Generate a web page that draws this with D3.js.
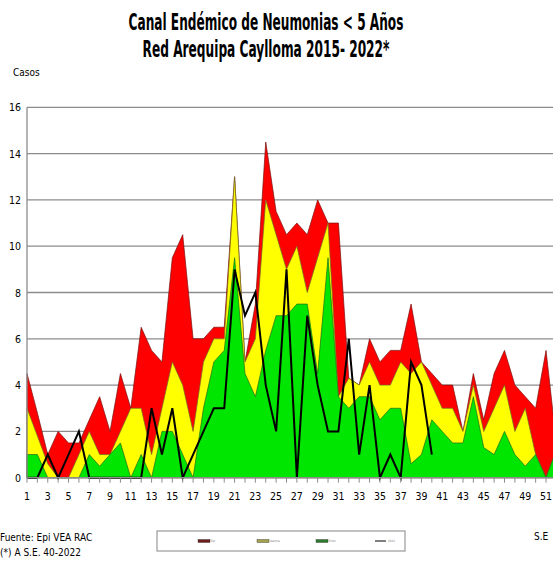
<!DOCTYPE html>
<meta charset="utf-8">
<style>
body { margin:0; background:#fff; }
svg { display:block; }
text { font-family: "Liberation Sans Narrow", "DejaVu Sans Condensed", "Liberation Sans", sans-serif; fill:#000; }
.title { font-weight:bold; font-size:23px; }
.grid { stroke:#8c8c8c; stroke-width:1.3; }
.tick { font-size:10.5px; }
.foot { font-size:10px; }
</style>
<div id="chart"></div>
<script src="https://cdn.jsdelivr.net/npm/d3@7"></script>
<script>

// semanas epidemiologicas
var weeks = d3.range(1, 53);

// canal endemico (zona epidemia / alarma / seguridad)
var epidemia = [4.5, 2.8, 1, 2, 1.5, 1.5, 2.5, 3.5, 2, 4.5, 3, 6.5, 5.5, 5, 9.5, 10.5, 6, 6, 6.5, 6.5,
  13, 5, 7.5, 14.5, 11.5, 10.5, 11, 10.5, 12, 11, 11, 4.3, 4, 6, 5, 5.5, 5.5, 7.5, 5, 4.5,
  4, 4, 2, 4.5, 2.5, 4.5, 5.5, 4, 3.5, 3, 5.5, 1.5];
var alarma = [3, 1.8, 0.6, 0, 0, 1, 2, 1, 1, 2, 3, 3, 1, 3, 5, 4, 2, 5, 6, 6,
  13, 5, 6, 12, 10.5, 9, 10, 8, 9.5, 11, 3.5, 4.3, 4, 5, 4, 4, 5, 4.5, 5, 4,
  3, 3, 2, 4, 2, 3, 4, 2, 3, 1, 0, 1.2];
var seguridad = [1, 1, 0, 0, 0, 0, 1, 0.5, 1, 1.5, 0, 1, 0, 2, 2, 1, 0, 3, 5, 5.5,
  9.5, 4.5, 3.5, 5.5, 7, 7, 7.5, 7.5, 4.5, 9.5, 3.5, 3, 3.5, 3.5, 2.5, 3, 3, 0.6, 1, 2.5,
  2, 1.5, 1.5, 3.5, 1.3, 1, 2, 1, 0.5, 1, 0, 1.2];

// casos 2022 hasta la S.E. 40
var casos2022 = [0, 0, 1, 0, 1, 2, 0, 0, 0, 0, 0, 0, 3, 1, 3, 0, 1, 2, 3, 3,
  9, 7, 8, 4, 2, 9, 0, 7, 4, 2, 2, 6, 1, 4, 0, 1, 0, 5, 4, 1];

var yTicks = [0, 2, 4, 6, 8, 10, 12, 14, 16];
var xLabels = weeks.filter(function(w){ return w % 2 == 1; });

var legendItems = [
  {name: "Epi", color: "#6e1c1c", type: "box"},
  {name: "Alarma", color: "#a3a24a", type: "box"},
  {name: "Exito", color: "#2e7a2e", type: "box"},
  {name: "2022", color: "#000", type: "line"}
];

var width = 553, height = 562;

var svg = d3.select("#chart").append("svg")
    .attr("width", width)
    .attr("height", height);

var x = d3.scaleLinear().domain([1, 52]).range([27, 556.4]);
var y = d3.scaleLinear().domain([0, 16]).range([477.7, 107.3]);

// titulo: fuente angosta, se comprime a lo ancho del original
function title(txt, cy, w) {
  var t = svg.append("text").attr("class", "title")
      .attr("text-anchor", "middle")
      .text(txt);
  var k = w / t.node().getComputedTextLength();
  t.attr("transform", "translate(266," + cy + ") scale(" + k + ",1)");
}
title("Canal Endémico de Neumonias < 5 Años", 30, 275);
title("Red Arequipa Caylloma 2015- 2022*", 57, 247);

svg.append("text").attr("class", "foot")
    .attr("x", 13).attr("y", 76)
    .text("Casos");

// grid
svg.append("g").selectAll("line")
    .data(yTicks.slice(1))
  .enter().append("line")
    .attr("class", "grid")
    .attr("x1", x(1)).attr("x2", width)
    .attr("y1", function(d){ return y(d); })
    .attr("y2", function(d){ return y(d); });

// areas (no apiladas, una encima de otra)
function area(vals) {
  return d3.area()
    .x(function(d, i){ return x(weeks[i]); })
    .y0(y(0))
    .y1(function(d){ return y(d); })(vals);
}

var series = [
  {vals: epidemia, fill: "#ff0000", stroke: "#7a1010"},
  {vals: alarma, fill: "#ffff00", stroke: "#6d6d2a"},
  {vals: seguridad, fill: "#00e600", stroke: "#1f6b1f"}
];

svg.append("g").selectAll("path")
    .data(series)
  .enter().append("path")
    .attr("d", function(s){ return area(s.vals); })
    .attr("fill", function(s){ return s.fill; })
    .attr("stroke", function(s){ return s.stroke; })
    .attr("stroke-width", 0.7);

// linea casos 2022
var line = d3.line()
    .x(function(d, i){ return x(weeks[i]); })
    .y(function(d){ return y(d); });

svg.append("path")
    .attr("d", line(casos2022))
    .attr("fill", "none")
    .attr("stroke", "#000")
    .attr("stroke-width", 2)
    .attr("stroke-linejoin", "miter");

// ejes
svg.append("line")
    .attr("x1", x(1)).attr("x2", x(1))
    .attr("y1", y(16)).attr("y2", y(0))
    .attr("stroke", "#8c8c8c").attr("stroke-width", 1.3);
svg.append("line")
    .attr("x1", x(1)).attr("x2", width)
    .attr("y1", y(0)).attr("y2", y(0))
    .attr("stroke", "#8c8c8c").attr("stroke-width", 1.3);

svg.append("g").selectAll("line")
    .data(weeks)
  .enter().append("line")
    .attr("x1", function(d){ return x(d); })
    .attr("x2", function(d){ return x(d); })
    .attr("y1", y(0)).attr("y2", y(0) + 5)
    .attr("stroke", "#8c8c8c");

svg.append("g").selectAll("text")
    .data(yTicks)
  .enter().append("text")
    .attr("class", "tick")
    .attr("x", 21)
    .attr("y", function(d){ return y(d) + 4; })
    .attr("text-anchor", "end")
    .text(function(d){ return d; });

svg.append("g").selectAll("text")
    .data(xLabels)
  .enter().append("text")
    .attr("class", "tick")
    .attr("x", function(d){ return x(d); })
    .attr("y", 500)
    .attr("text-anchor", "middle")
    .text(function(d){ return d; });

// pie
svg.append("text").attr("class", "foot")
    .attr("x", 0).attr("y", 541)
    .text("Fuente: Epi VEA RAC");
svg.append("text").attr("class", "foot")
    .attr("x", 0).attr("y", 556)
    .text("(*) A S.E.  40-2022");
svg.append("text").attr("class", "foot")
    .attr("x", 534).attr("y", 540)
    .text("S.E");

// leyenda
var leg = svg.append("g");
leg.append("rect")
    .attr("x", 157).attr("y", 531)
    .attr("width", 248).attr("height", 20)
    .attr("fill", "#fff")
    .attr("stroke", "#999").attr("stroke-width", 1.2);

var li = leg.selectAll("g.item")
    .data(legendItems)
  .enter().append("g")
    .attr("transform", function(d, i){ return "translate(" + (198 + i * 59) + ",541)"; });

li.filter(function(d){ return d.type == "box"; })
  .append("rect")
    .attr("x", 0).attr("y", -1.5)
    .attr("width", 12).attr("height", 3)
    .attr("fill", function(d){ return d.color; })
    .attr("stroke", "#333").attr("stroke-width", 0.4);
li.filter(function(d){ return d.type == "line"; })
  .append("line")
    .attr("x1", 0).attr("x2", 11)
    .attr("stroke", "#000").attr("stroke-width", 1);
li.append("text")
    .attr("x", 13).attr("y", 1)
    .style("font-size", "3px")
    .style("fill", "#777")
    .text(function(d){ return d.name; });

</script>
